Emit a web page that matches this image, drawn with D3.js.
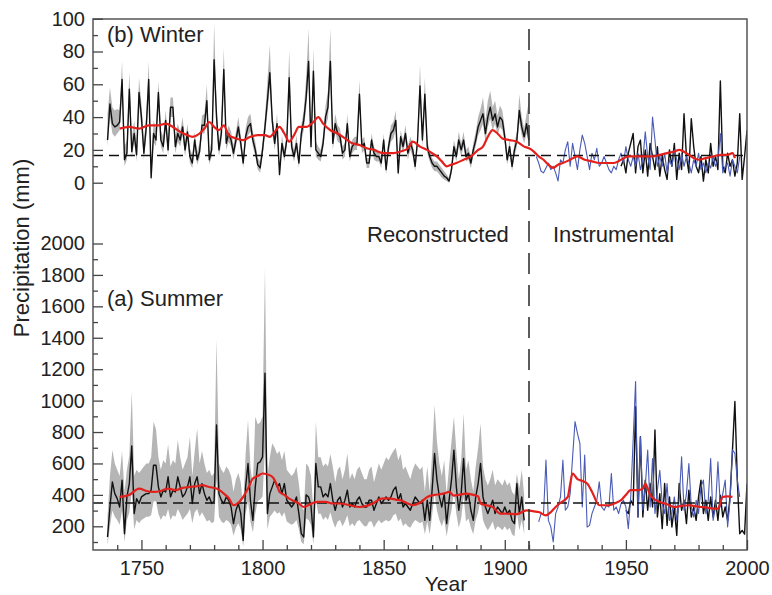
<!DOCTYPE html>
<html>
<head>
<meta charset="utf-8">
<script src="https://cdn.jsdelivr.net/npm/d3@7"></script>
<style>
  body { margin: 0; background: #fff; }
  text { font-family: "Liberation Sans", Arial, sans-serif; fill: #222; }
</style>
</head>
<body>
<div id="chart"></div>
<script>
// ---- data ----
// (b) Winter, reconstruction 1736-1910 with grey uncertainty band
var winterStart = 1736;
var winterRecon = [26,48,36,34,
  35,37,63,14,18,57,19,30,17,55,
  40,18,34,63,3,30,26,55,26,22,
  38,20,46,46,22,30,26,34,20,31,
  16,12,26,14,19,35,35,50,14,20,
  75,40,20,30,69,24,30,26,18,26,
  34,24,12,28,34,36,26,20,11,9,
  20,34,50,67,38,24,36,5,24,16,
  26,64,22,16,24,12,30,38,52,74,
  22,68,20,18,16,24,40,46,74,24,
  36,30,28,18,20,36,16,22,24,24,
  54,22,24,12,12,26,18,16,16,12,
  26,8,22,30,32,38,6,28,22,30,
  18,24,20,10,26,59,26,54,22,16,
  12,10,10,8,6,4,3,1,8,22,
  16,26,20,26,16,18,12,20,26,34,
  38,42,30,40,46,38,42,34,40,38,
  28,14,22,10,20,26,44,34,28,36,
  26];
var winterHi = [42,58,46,44,
  45,44,74,22,26,68,27,38,24,64,
  48,25,42,74,8,38,33,62,32,28,
  44,26,52,52,28,36,31,40,25,36,
  21,17,31,19,24,41,42,60,19,26,
  97,48,25,36,82,29,35,31,23,31,
  40,29,16,33,40,42,31,25,15,13,
  25,40,62,84,44,29,42,8,29,20,
  31,81,27,20,29,16,35,44,64,94,
  27,82,25,22,20,29,47,56,94,29,
  42,35,33,22,24,42,20,26,28,28,
  63,26,28,15,15,30,22,19,19,15,
  30,11,26,35,37,44,9,32,26,35,
  22,28,24,13,30,72,30,64,26,19,
  15,13,13,11,9,7,5,3,11,26,
  20,31,24,31,20,22,15,24,31,40,
  45,52,38,50,56,46,50,41,47,44,
  33,17,26,13,24,31,54,40,33,42,
  50];
var winterLo = [22,40,30,28,
  30,32,54,10,14,48,15,25,13,47,
  34,14,29,54,1,25,22,47,22,18,
  33,16,40,40,18,25,22,29,16,26,
  12,9,22,11,15,30,30,43,11,16,
  65,34,16,25,60,20,25,22,14,22,
  29,20,9,24,29,31,22,16,8,6,
  16,29,43,58,32,20,31,3,20,13,
  22,55,18,13,20,9,25,32,45,64,
  18,58,16,14,13,20,34,39,64,20,
  31,25,24,14,16,31,13,18,20,20,
  46,18,20,9,9,22,14,13,13,9,
  22,5,18,25,27,32,4,24,18,25,
  14,20,16,7,22,50,22,46,18,13,
  9,7,7,5,3,2,1,0,5,18,
  13,22,16,22,13,14,9,16,22,29,
  32,36,25,34,39,32,36,29,34,32,
  24,11,18,7,16,22,37,29,24,30,
  22];
// winter reconstruction, late part 1948-2000
var winterLateStart = 1948;
var winterLate = [10,14,
  6,18,24,30,6,22,26,6,20,4,
  24,16,8,22,4,16,8,2,20,10,
  24,2,18,8,42,16,6,39,22,10,
  6,16,1,14,6,24,10,16,8,62,
  10,6,18,10,14,4,12,42,2,16,
  32];
// winter instrumental record 1913-1997
var winterInstStart = 1913;
var winterInst = [16,12,7,6,9,12,8,
  10,6,1,14,12,20,25,10,24,16,
  8,20,29,24,16,8,18,14,21,10,
  12,16,12,8,6,10,8,14,18,12,
  22,14,10,16,10,18,8,14,31,16,
  8,40,26,10,16,10,18,6,14,10,
  20,14,8,18,10,16,12,6,14,10,
  18,8,12,6,12,9,16,10,14,30,
  6,10,12,4,14,10,6,16];
// winter smoothed curve (red)
var winterSmoothYears = [1741,1745,1749,1753,1757,1760,1763,1766,1769,1771,1774,1776,1778,1780,1782,1784,1786,1789,1792,1795,1798,1801,1803,1805,1807,1809,1811,1813,1815,1818,1821,1823,1825,1828,1831,1834,1837,1840,1843,1846,1850,1854,1857,1860,1862,1865,1868,1870,1872,1874,1876,1878,1880,1883,1886,1889,1891,1893,1895,1897,1899,1902,1905,1908,1910,1912,1914,1916,1918,1920,1922,1924,1927,1930,1933,1936,1939,1942,1945,1948,1951,1955,1958,1961,1964,1967,1970,1972,1975,1978,1980,1983,1986,1989,1992,1994,1995];
var winterSmooth = [33,34,33,35,35,36,34,31,29,28,30,33,37,34,32,35,29,27,26,28,29,29,28,31,34,30,25,29,34,34,37,40,36,32,30,27,24,23,21,20,18,18,19,21,25,22,20,18,16,13,10,11,12,14,16,20,22,28,32,30,27,26,25,22,21,19,16,14,11,9,11,12,14,16,14,13,12,12,12,14,16,16,16,16,17,18,19,20,18,15,14,15,16,17,17,18,15];
var winterMean = 16.6;

// (a) Summer, reconstruction 1736-1908 with grey uncertainty band
var summerStart = 1736;
var summerRecon = [132,323,483,408,
  376,323,494,153,387,472,711,281,376,345,
  387,398,408,408,430,589,589,451,387,430,
  419,515,387,430,419,515,451,387,408,451,
  515,345,472,515,408,472,408,366,387,345,
  360,845,408,366,345,387,366,323,217,302,
  345,281,110,451,600,366,238,451,600,610,
  642,1175,281,408,451,494,451,472,408,472,
  366,345,323,345,387,281,153,132,400,387,
  330,132,600,451,451,387,408,387,472,366,
  302,366,387,323,366,430,323,345,323,366,
  387,345,323,323,366,366,302,345,387,345,
  366,387,366,387,430,451,366,408,323,345,
  323,302,345,387,366,345,366,238,366,238,
  430,664,494,387,323,408,217,366,494,685,
  451,302,408,632,366,408,302,238,387,472,
  600,387,323,281,323,366,281,323,302,281,
  323,281,302,238,217,472,281,387,238];
var summerHi = [260,520,685,600,
  560,520,680,420,560,650,1057,520,560,540,
  560,580,600,600,640,866,820,640,560,620,
  600,720,580,620,600,749,640,560,600,640,
  770,520,680,823,600,680,600,540,560,520,
  540,1390,600,560,540,580,560,520,420,500,
  540,480,320,660,877,580,460,898,850,860,
  900,1845,520,640,728,700,660,680,620,680,
  560,540,520,540,580,470,330,300,600,580,
  520,300,866,640,640,580,600,580,660,579,
  480,560,580,500,560,664,500,540,500,560,
  580,540,500,500,560,580,480,540,600,560,
  600,640,620,653,680,700,620,660,560,580,
  540,500,560,600,580,560,580,420,580,420,
  660,972,740,600,520,620,400,580,740,898,
  680,500,620,919,560,620,500,420,580,700,
  855,580,500,460,500,560,460,500,480,460,
  500,460,480,420,400,536,440,560,400];
var summerLo = [80,200,300,260,
  240,210,300,100,240,290,420,180,240,220,
  240,250,260,260,270,360,360,280,240,270,
  260,310,240,270,260,310,280,240,260,280,
  310,220,290,310,260,290,260,230,240,220,
  230,500,260,230,220,240,230,210,140,190,
  220,180,70,280,360,230,160,280,360,370,
  390,700,180,260,280,300,280,290,260,290,
  230,220,210,220,240,180,100,85,250,240,
  210,85,370,280,280,240,260,240,290,230,
  190,230,240,200,230,270,200,220,200,230,
  240,220,200,200,230,230,190,220,240,220,
  230,240,230,240,270,280,230,250,200,220,
  200,190,220,240,230,220,230,150,230,150,
  270,410,300,240,200,250,135,230,300,420,
  280,190,250,390,230,250,190,150,240,290,
  370,240,200,175,200,230,175,200,190,175,
  200,175,190,150,135,290,175,240,150];
// summer reconstruction, late part 1950-2000
var summerLateStart = 1950;
var summerLate = [302,281,366,334,962,259,770,259,494,302,
  472,323,813,259,408,185,472,206,387,196,
  323,142,472,302,366,217,430,259,323,238,
  387,494,281,366,238,387,259,366,238,398,
  259,323,238,387,685,994,494,153,174,150,
  472];
// summer instrumental record 1914-1997
var summerInstStart = 1914;
var summerInst = [228,281,281,621,238,196,
  100,281,323,387,621,302,323,408,642,866,
  791,728,323,653,196,206,281,323,366,483,
  323,302,334,323,536,302,323,281,345,366,
  323,185,387,749,1121,259,770,302,451,685,
  323,632,281,430,557,345,281,472,238,281,
  387,238,366,642,302,408,600,323,259,366,
  281,451,494,281,366,632,238,323,610,323,
  408,494,196,366,685,664,494,387];
// summer smoothed curve (red)
var summerSmoothYears = [1741,1745,1749,1752,1755,1758,1761,1764,1767,1770,1773,1775,1778,1781,1784,1786,1788,1790,1792,1794,1796,1798,1800,1802,1804,1806,1807,1809,1811,1813,1815,1817,1819,1821,1823,1826,1829,1832,1836,1840,1843,1846,1849,1852,1855,1858,1860,1862,1865,1868,1871,1873,1875,1877,1879,1881,1884,1887,1889,1890,1892,1895,1898,1901,1905,1909,1912,1914,1917,1919,1921,1923,1926,1927,1928,1930,1931,1934,1936,1939,1941,1943,1946,1948,1950,1952,1955,1957,1958,1960,1962,1964,1967,1970,1973,1976,1978,1981,1983,1986,1988,1990,1992,1994];
var summerSmooth = [387,400,440,425,419,425,440,430,445,451,455,462,450,440,408,380,334,350,387,440,504,520,536,530,515,460,419,400,376,360,345,323,335,350,355,355,345,345,334,323,330,350,376,378,370,360,345,334,350,387,400,404,410,419,395,400,408,400,390,345,335,323,281,280,277,302,295,291,270,290,323,350,387,470,536,500,494,472,420,334,334,334,350,366,400,430,430,440,472,400,370,355,340,323,330,334,330,323,320,313,313,387,390,387];
var summerMean = 348;

var splitYear = 1910;

// axis ticks
var yearMajor = [1750, 1800, 1850, 1900, 1950, 2000];
var yearMinor = [1740, 1760, 1770, 1780, 1790, 1810, 1820, 1830, 1840, 1860, 1870, 1880, 1890, 1910, 1920, 1930, 1940, 1960, 1970, 1980, 1990];
var winterMajor = [0, 20, 40, 60, 80, 100];
var winterMinor = [10, 30, 50, 70, 90];
var summerMajor = [200, 400, 600, 800, 1000, 1200, 1400, 1600, 1800, 2000];
var summerMinor = [100, 300, 500, 700, 900, 1100, 1300, 1500, 1700, 1900];

// ---- chart ----
var svgWidth = 772;
var svgHeight = 595;
var plot = { left: 93, right: 747, top: 19, bottom: 550 };

var svg = d3.select("#chart")
  .append("svg")
  .attr("width", svgWidth)
  .attr("height", svgHeight)
  .style("background", "#fff");

var x = d3.scaleLinear().domain([1730, 2000]).range([plot.left, plot.right]);
var yW = d3.scaleLinear().domain([0, 100]).range([182.7, 18.7]);
var yS = d3.scaleLinear().domain([200, 2000]).range([526.3, 243.5]);

svg.append("clipPath").attr("id", "clip")
  .append("rect")
  .attr("x", plot.left).attr("y", plot.top)
  .attr("width", plot.right - plot.left)
  .attr("height", plot.bottom - plot.top);

var g = svg.append("g").attr("clip-path", "url(#clip)");

// turn an array + start year into {year, value} rows
function rows(start, vals) {
  return vals.map((v, i) => ({ year: start + i, value: v }));
}
function bandRows(start, lo, hi) {
  return lo.map((v, i) => ({ year: start + i, lo: v, hi: hi[i] }));
}

function drawBand(data, yScale) {
  var area = d3.area()
    .x(d => x(d.year))
    .y0(d => yScale(d.lo))
    .y1(d => yScale(d.hi));
  g.append("path").datum(data)
    .attr("d", area)
    .attr("fill", "#b5b5b5")
    .attr("stroke", "none");
}

function drawLine(data, yScale, color, width, curve) {
  var line = d3.line()
    .x(d => x(d.year))
    .y(d => yScale(d.value))
    .curve(curve || d3.curveLinear);
  g.append("path").datum(data)
    .attr("d", line)
    .attr("fill", "none")
    .attr("stroke", color)
    .attr("stroke-width", width)
    .attr("stroke-linejoin", "round");
}

// grey bands
drawBand(bandRows(winterStart, winterLo, winterHi), yW);
drawBand(bandRows(summerStart, summerLo, summerHi), yS);

// reconstructed (black)
drawLine(rows(winterStart, winterRecon), yW, "#111", 1.4);
drawLine(rows(winterLateStart, winterLate), yW, "#111", 1.4);
drawLine(rows(summerStart, summerRecon), yS, "#111", 1.4);
drawLine(rows(summerLateStart, summerLate), yS, "#111", 1.4);

// instrumental (blue)
drawLine(rows(winterInstStart, winterInst), yW, "#4a5bb5", 1.1);
drawLine(rows(summerInstStart, summerInst), yS, "#4a5bb5", 1.1);

// mean lines
g.append("line")
  .attr("x1", plot.left).attr("x2", plot.right)
  .attr("y1", yW(winterMean)).attr("y2", yW(winterMean))
  .attr("stroke", "#111").attr("stroke-width", 1.6)
  .attr("stroke-dasharray", "10,6");
g.append("line")
  .attr("x1", plot.left).attr("x2", plot.right)
  .attr("y1", yS(summerMean)).attr("y2", yS(summerMean))
  .attr("stroke", "#111").attr("stroke-width", 1.6)
  .attr("stroke-dasharray", "10,6");

// smoothed (red)
var wSmooth = winterSmoothYears.map((yr, i) => ({ year: yr, value: winterSmooth[i] }));
var sSmooth = summerSmoothYears.map((yr, i) => ({ year: yr, value: summerSmooth[i] }));
drawLine(wSmooth, yW, "#e3211c", 2.2, d3.curveMonotoneX);
drawLine(sSmooth, yS, "#e3211c", 2.2, d3.curveMonotoneX);

// split between reconstructed and instrumental
svg.append("line")
  .attr("x1", x(splitYear)).attr("x2", x(splitYear))
  .attr("y1", plot.top + 10).attr("y2", plot.bottom)
  .attr("stroke", "#333").attr("stroke-width", 1.6)
  .attr("stroke-dasharray", "21,11");

// frame
svg.append("rect")
  .attr("x", plot.left).attr("y", plot.top)
  .attr("width", plot.right - plot.left)
  .attr("height", plot.bottom - plot.top)
  .attr("fill", "none")
  .attr("stroke", "#555")
  .attr("stroke-width", 1.5);

// axes, ticks pointing inward
function styleAxis(sel) {
  sel.select(".domain").remove();
  sel.selectAll(".tick line").attr("stroke", "#444").attr("stroke-width", 1.3);
  sel.selectAll("text")
    .style("font-family", "Liberation Sans, Arial, sans-serif")
    .style("font-size", "20px")
    .attr("fill", "#222");
}

var xAxis = svg.append("g")
  .attr("transform", `translate(0, ${plot.bottom})`)
  .call(d3.axisBottom(x).tickValues(yearMajor).tickSize(-10).tickPadding(11).tickFormat(d3.format("d")));
styleAxis(xAxis);
var xMinor = svg.append("g")
  .attr("transform", `translate(0, ${plot.bottom})`)
  .call(d3.axisBottom(x).tickValues(yearMinor).tickSize(-5).tickFormat(""));
styleAxis(xMinor);

var wAxis = svg.append("g")
  .attr("transform", `translate(${plot.left}, 0)`)
  .call(d3.axisLeft(yW).tickValues(winterMajor).tickSize(-10).tickPadding(8).tickFormat(d3.format("d")));
styleAxis(wAxis);
var wMinor = svg.append("g")
  .attr("transform", `translate(${plot.left}, 0)`)
  .call(d3.axisLeft(yW).tickValues(winterMinor).tickSize(-5).tickFormat(""));
styleAxis(wMinor);

var sAxis = svg.append("g")
  .attr("transform", `translate(${plot.left}, 0)`)
  .call(d3.axisLeft(yS).tickValues(summerMajor).tickSize(-10).tickPadding(8).tickFormat(d3.format("d")));
styleAxis(sAxis);
var sMinor = svg.append("g")
  .attr("transform", `translate(${plot.left}, 0)`)
  .call(d3.axisLeft(yS).tickValues(summerMinor).tickSize(-5).tickFormat(""));
styleAxis(sMinor);

// labels
function label(txt, px, py, anchor) {
  return svg.append("text")
    .attr("x", px).attr("y", py)
    .attr("text-anchor", anchor || "start")
    .style("font-size", "22px")
    .text(txt);
}
label("(b) Winter", 107, 42);
label("(a) Summer", 107, 306);
label("Reconstructed", 367, 242);
label("Instrumental", 553, 242);
label("Year", 446, 591, "middle").style("font-size", "21px");

svg.append("text")
  .attr("transform", "translate(29, 248) rotate(-90)")
  .attr("text-anchor", "middle")
  .style("font-size", "22px")
  .text("Precipitation (mm)");
</script>
</body>
</html>
